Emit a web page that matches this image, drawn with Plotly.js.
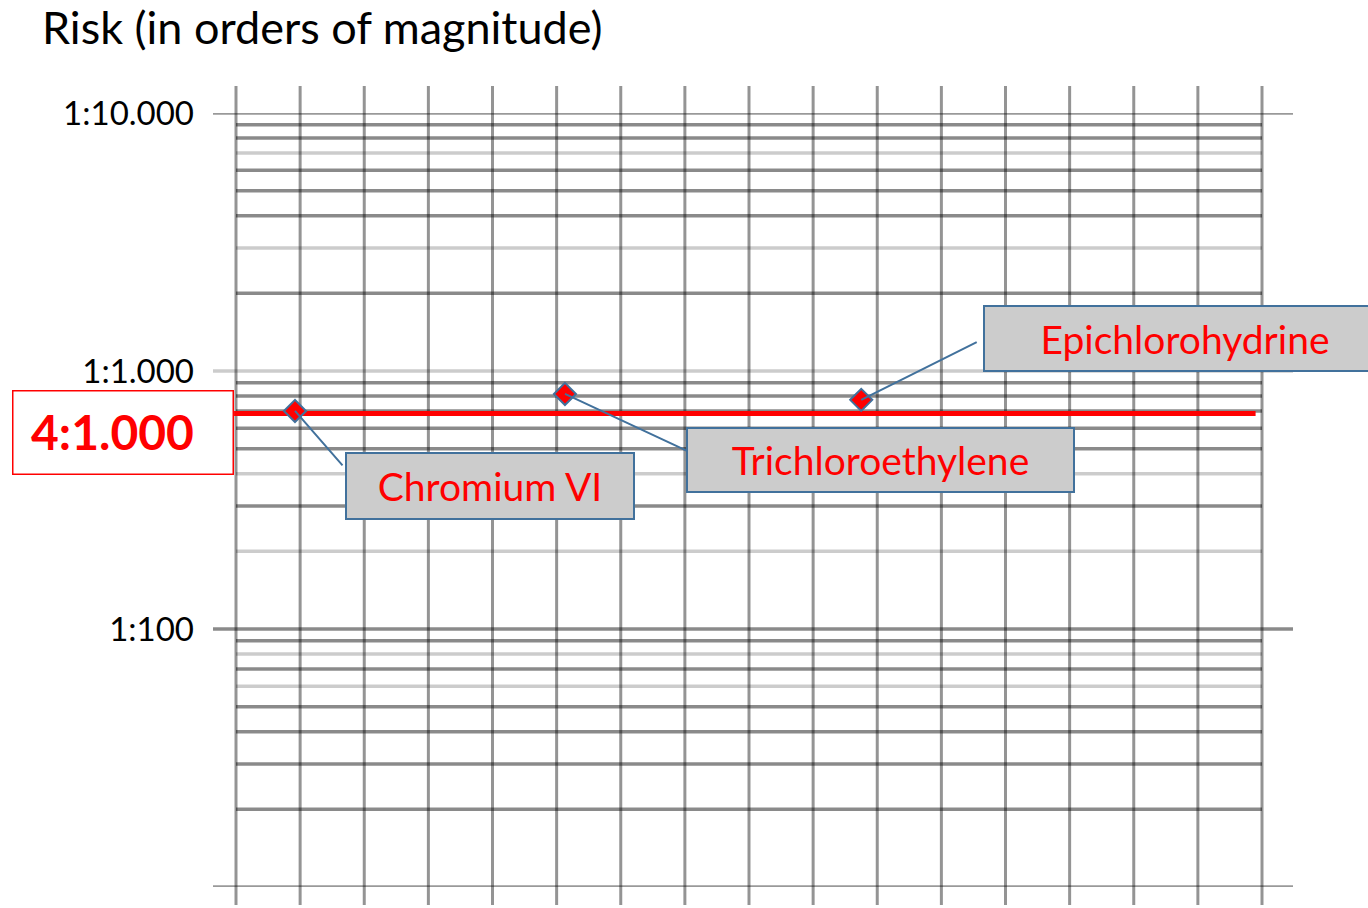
<!DOCTYPE html>
<html>
<head>
<meta charset="utf-8">
<script src="https://cdn.plot.ly/plotly-3.0.1.min.js"></script>
<style>html,body{margin:0;padding:0;background:#fff;}#chart{width:1368px;height:908px;}</style>
</head>
<body>
<div id="chart"></div>
<script>
// ---- data ----
const substances = ['Chromium VI', 'Trichloroethylene', 'Epichlorohydrine'];
const substanceX = [0.92, 5.13, 9.75];
const substanceRisk = [700, 815, 773];
const leaderOffsetPx = [[48, 55], [122, 57], [116, -58]];

const thresholdValue = 685;
const thresholdLabel = '4:1.000';

const tickVals = [10000, 1000, 100];
const tickText = ['1:10.000', '1:1.000', '1:100'];

const verticalGridX = [0, 1, 2, 3, 4, 5, 6, 7, 8, 9, 10, 11, 12, 13, 14, 15, 16];
const majorGrid = [10, 100, 1000, 10000];
const majorShade = ['m', 'd', 'l', 'm'];
const minorGrid = [20, 30, 40, 50, 60, 70, 80, 90,
                   200, 300, 400, 500, 600, 700, 800, 900,
                   2000, 3000, 4000, 5000, 6000, 7000, 8000, 9000];
const minorShade = ['d', 'd', 'd', 'd', 'l', 'd', 'l', 'd',
                    'l', 'd', 'l', 'd', 'd', 'd', 'd', 'd',
                    'd', 'l', 'd', 'd', 'd', 'l', 'd', 'd'];

// ---- styles ----
const shadeColor = {d: 'rgba(0,0,0,0.46)', m: 'rgba(0,0,0,0.4)', l: 'rgba(0,0,0,0.2)'};
const FONT = 'Lato, "Open Sans", "Liberation Sans", sans-serif';
const xMin = -0.3587, xMax = 16.4834;
const blue = '#41719c';

const shapes = [];
verticalGridX.forEach(function (x) {
  shapes.push({type: 'line', layer: 'below', xref: 'x', yref: 'paper', x0: x, x1: x, y0: -0.0233, y1: 1.0349,
    line: {color: 'rgba(0,0,0,0.42)', width: 3}});
});
minorGrid.forEach(function (v, i) {
  shapes.push({type: 'line', layer: 'below', xref: 'x', yref: 'y', x0: 0, x1: 16, y0: v, y1: v,
    line: {color: shadeColor[minorShade[i]], width: 3.5}});
});
majorGrid.forEach(function (v, i) {
  shapes.push({type: 'line', layer: 'below', xref: 'x', yref: 'y', x0: xMin, x1: xMax, y0: v, y1: v,
    line: {color: shadeColor[majorShade[i]], width: 3.5}});
});

const annotations = [];
// leader lines from each point to its label box
substances.forEach(function (s, i) {
  annotations.push({text: ' ', x: substanceX[i], y: Math.log10(substanceRisk[i]), xref: 'x', yref: 'y',
    showarrow: true, ax: leaderOffsetPx[i][0], ay: leaderOffsetPx[i][1], arrowhead: 0, arrowwidth: 2,
    arrowcolor: blue, standoff: 0, startstandoff: 0, font: {size: 1}, borderpad: 0});
});

const boxPos = [
  {x: 0.12222, y: 0.5620, w: 286, h: 64},
  {x: 0.43796, y: 0.5943, w: 385, h: 62},
  {x: 0.71296, y: 0.7519, w: 400, h: 63}
];
substances.forEach(function (s, i) {
  annotations.push({text: s, xref: 'paper', yref: 'paper', x: boxPos[i].x, y: boxPos[i].y,
    xanchor: 'left', yanchor: 'top', showarrow: false, width: boxPos[i].w, height: boxPos[i].h,
    bgcolor: '#cccccc', bordercolor: blue, borderwidth: 2, borderpad: 0,
    font: {family: FONT, size: 39, color: '#ff0000'}});
});
// threshold label: framed box + text
annotations.push({text: ' ', xref: 'paper', yref: 'paper', x: -0.1861, y: 0.6421,
  xanchor: 'left', yanchor: 'top', showarrow: false, width: 219, height: 82,
  bgcolor: '#ffffff', bordercolor: '#ff0000', borderwidth: 1.5, borderpad: 0,
  font: {family: FONT, size: 10, color: '#ff0000'}});
annotations.push({text: '<b>' + thresholdLabel + '</b>', xref: 'paper', yref: 'paper', x: -0.0926, y: 0.5885,
  xanchor: 'center', yanchor: 'middle', showarrow: false,
  font: {family: FONT, size: 48, color: '#ff0000'}});

const traces = [
  {type: 'scatter', mode: 'lines', x: [-0.03, 15.9], y: [thresholdValue, thresholdValue],
    line: {color: '#ff0000', width: 5}, hoverinfo: 'skip', showlegend: false},
  {type: 'scatter', mode: 'markers', x: substanceX, y: substanceRisk, text: substances,
    marker: {symbol: 'diamond', size: 17, color: '#ff0000', line: {color: blue, width: 2}}, showlegend: false}
];

const layout = {
  width: 1368, height: 908,
  margin: {l: 213, r: 75, t: 113, b: 21},
  paper_bgcolor: '#ffffff', plot_bgcolor: 'rgba(0,0,0,0)',
  title: {text: 'Risk (in orders of magnitude)', x: 0.0307, xref: 'container', xanchor: 'left',
    y: 1 - 28 / 908, yref: 'container', yanchor: 'middle', font: {family: FONT, size: 45, color: '#000'}},
  xaxis: {range: [xMin, xMax], showgrid: false, zeroline: false, showticklabels: false, showline: false, ticks: ''},
  yaxis: {type: 'log', range: [1, 4], showgrid: false, zeroline: false, showline: false, ticks: '',
    tickvals: tickVals, ticktext: tickText, ticklabelstandoff: 18,
    tickfont: {family: FONT, size: 33, color: '#000'}},
  shapes: shapes,
  annotations: annotations,
  showlegend: false
};

Plotly.newPlot('chart', traces, layout, {displayModeBar: false, staticPlot: true});
</script>
</body>
</html>
